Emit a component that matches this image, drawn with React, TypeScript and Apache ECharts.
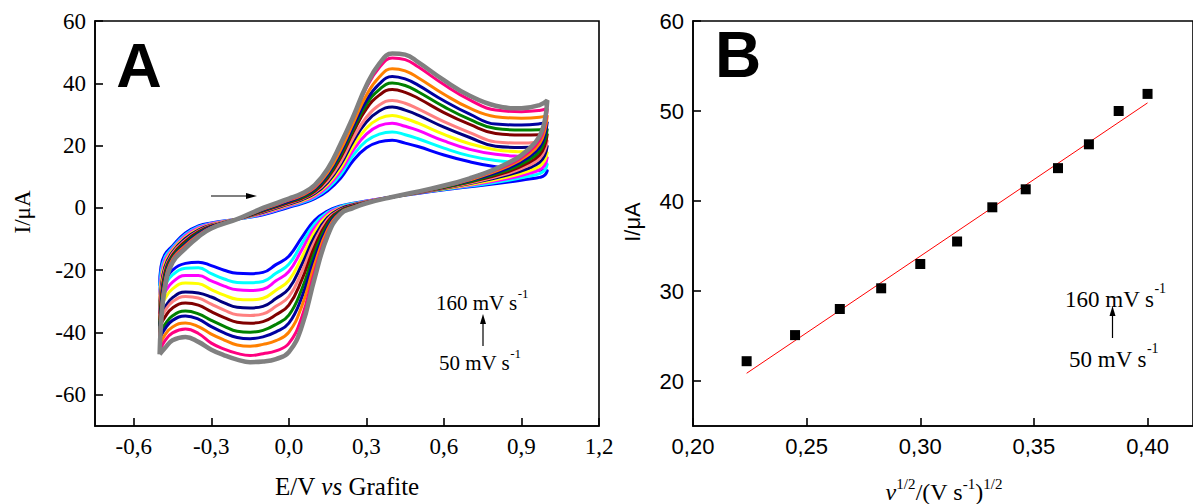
import { useEffect, useRef } from "react";
import * as echarts from "echarts";

// ---------- Panel A: cyclic voltammograms ----------
const scanRates = [50, 60, 70, 80, 90, 100, 110, 120, 130, 140, 150, 160];
const curveColors = ["#0000FF", "#00FFFF", "#FF00FF", "#FFFF00", "#000080", "#FF8080", "#800000", "#008000", "#0000A0", "#FF8000", "#FF0080", "#808080"];

// potentials (V) of the forward (anodic) and reverse (cathodic) sweeps
const forwardPotential = [-0.5, -0.495, -0.48, -0.45, -0.4, -0.35, -0.3, -0.2, -0.1, 0.0, 0.05, 0.1, 0.15, 0.2, 0.25, 0.3, 0.35, 0.4, 0.45, 0.5, 0.6, 0.7, 0.8, 0.9, 0.97, 1.0];
const reversePotential = [0.99, 0.97, 0.93, 0.85, 0.7, 0.55, 0.4, 0.3, 0.25, 0.2, 0.15, 0.1, 0.05, 0.0, -0.05, -0.1, -0.15, -0.2, -0.25, -0.3, -0.35, -0.4, -0.45, -0.48, -0.5];

// currents (µA) – forward sweeps
const forward50 = [-25, -19, -15, -12.2, -8.0, -5.8, -4.8, -3.6, -2.2, 0.2, 1.4, 3.0, 5.5, 9.5, 15.3, 19.3, 21.2, 21.7, 20.8, 19.7, 17.0, 14.8, 13.2, 12.4, 12.1, 12.0];
const forward60 = [-28, -21, -16, -12.7, -8.5, -6.1, -5.0, -3.6, -2.0, 0.5, 1.7, 3.4, 6.2, 10.6, 17.0, 21.5, 23.7, 24.4, 23.5, 22.2, 19.2, 16.7, 15.2, 14.5, 14.2, 14.2];
const forward70 = [-30, -23, -17, -13.2, -8.9, -6.4, -5.1, -3.6, -1.8, 0.7, 2.0, 3.8, 6.9, 11.8, 18.6, 23.7, 26.4, 27.2, 26.2, 24.9, 21.5, 18.8, 17.2, 16.5, 16.3, 16.3];
const forward80 = [-32, -24.5, -18, -13.6, -9.4, -6.8, -5.3, -3.6, -1.6, 1.0, 2.3, 4.2, 7.5, 12.8, 20.0, 25.6, 28.7, 29.7, 28.7, 27.2, 23.6, 20.6, 18.7, 18.0, 17.9, 17.9];
const forward90 = [-34, -26.5, -19, -14.1, -9.8, -7.1, -5.5, -3.6, -1.4, 1.2, 2.6, 4.6, 8.2, 13.9, 21.5, 27.6, 31.1, 32.4, 31.4, 29.8, 25.9, 22.6, 19.8, 19.4, 19.6, 20.0];
const forward100 = [-36, -28, -20, -14.6, -10.3, -7.4, -5.6, -3.6, -1.2, 1.5, 2.9, 5.0, 8.7, 14.7, 22.6, 29.1, 33.0, 34.5, 33.6, 31.8, 27.7, 24.2, 21.2, 20.8, 21.2, 21.7];
const forward110 = [-38, -30, -21, -15.1, -10.7, -7.7, -5.8, -3.6, -1.0, 1.7, 3.1, 5.3, 9.6, 16.1, 24.5, 31.8, 36.2, 38.0, 37.1, 35.2, 30.6, 26.8, 23.9, 23.4, 23.5, 23.8];
const forward120 = [-40, -32, -22, -15.6, -11.2, -8.0, -6.0, -3.6, -0.8, 2.0, 3.4, 5.7, 10.1, 16.9, 25.4, 33.2, 38.0, 40.1, 39.3, 37.3, 32.5, 28.4, 25.5, 25.0, 25.1, 25.4];
const forward130 = [-42, -33.5, -23, -16.1, -11.6, -8.3, -6.1, -3.6, -0.6, 2.2, 3.7, 6.1, 10.7, 17.7, 26.3, 34.5, 39.8, 42.2, 41.4, 39.4, 34.4, 30.1, 26.9, 26.6, 27.0, 27.6];
const forward140 = [-44, -35, -24, -16.5, -12.1, -8.7, -6.3, -3.6, -0.4, 2.5, 4.0, 6.5, 11.3, 18.6, 27.4, 36.2, 42.0, 44.7, 44.0, 41.8, 36.5, 32.0, 29.3, 28.8, 29.1, 29.7];
const forward150 = [-46, -37, -25, -17.0, -12.5, -9.0, -6.4, -3.6, -0.2, 2.7, 4.3, 6.9, 12.2, 20.0, 29.1, 38.6, 45.1, 48.1, 47.6, 45.3, 39.6, 34.7, 31.4, 30.9, 31.3, 31.9];
const forward160 = [-47, -38, -26, -17.5, -13.0, -9.3, -6.6, -3.6, 0.0, 3.0, 4.6, 7.3, 12.5, 20.5, 29.5, 39.3, 46.3, 49.6, 49.2, 46.8, 41.0, 36.0, 32.8, 32.0, 33.0, 34.5];

// currents (µA) – reverse sweeps
const reverse50 = [10.5, 9.8, 9.3, 8.3, 6.8, 5.3, 3.5, 2.2, 1.5, 0.6, -1.0, -4.0, -9.5, -15.5, -18.2, -20.7, -21.1, -21.0, -20.0, -18.5, -17.4, -17.8, -20.0, -23.5, -25];
const reverse60 = [12.1, 11.0, 10.2, 8.9, 7.0, 5.4, 3.5, 2.1, 1.4, 0.4, -1.4, -5.1, -11.5, -18.1, -21.0, -23.6, -24.0, -23.9, -22.8, -21.1, -19.2, -19.4, -21.5, -24.9, -28];
const reverse70 = [13.7, 12.2, 11.1, 9.4, 7.3, 5.5, 3.5, 2.1, 1.2, 0.1, -1.9, -6.3, -13.5, -20.4, -23.4, -26.1, -26.5, -26.3, -25.1, -23.4, -21.7, -21.7, -23.8, -27.1, -30];
const reverse80 = [15.3, 13.4, 11.9, 10.0, 7.5, 5.5, 3.5, 2.0, 1.1, -0.1, -2.5, -7.7, -15.9, -23.3, -26.4, -29.0, -29.5, -29.3, -28.0, -26.2, -24.3, -24.1, -26.0, -29.2, -32];
const reverse90 = [16.9, 14.6, 12.8, 10.6, 7.8, 5.6, 3.5, 1.9, 1.0, -0.3, -3.1, -9.2, -18.2, -25.9, -29.1, -31.6, -32.1, -31.9, -30.5, -28.6, -27.3, -27.0, -28.8, -31.9, -34];
const reverse100 = [18.5, 15.8, 13.7, 11.1, 8.0, 5.7, 3.5, 1.9, 0.8, -0.6, -3.7, -10.7, -20.5, -28.5, -31.6, -34.0, -34.5, -34.3, -32.8, -30.9, -28.9, -28.4, -30.1, -33.1, -36];
const reverse110 = [20.0, 17.0, 14.6, 11.7, 8.3, 5.8, 3.5, 1.8, 0.7, -0.8, -4.5, -12.4, -23.1, -31.2, -34.3, -36.5, -37.0, -36.7, -35.2, -33.3, -31.2, -30.5, -32.1, -35.1, -38];
const reverse120 = [21.6, 18.2, 15.5, 12.2, 8.5, 5.9, 3.5, 1.7, 0.5, -1.1, -5.3, -14.3, -26.1, -34.4, -37.4, -39.3, -39.9, -39.6, -38.0, -36.1, -34.0, -33.1, -34.6, -37.5, -40];
const reverse130 = [23.2, 19.4, 16.4, 12.8, 8.8, 6.0, 3.5, 1.7, 0.4, -1.3, -6.1, -16.1, -28.7, -37.0, -39.8, -41.4, -42.0, -41.6, -40.1, -38.1, -35.7, -34.7, -36.1, -38.9, -42];
const reverse140 = [24.8, 20.6, 17.2, 13.4, 9.0, 6.0, 3.5, 1.6, 0.3, -1.5, -7.0, -18.1, -31.6, -39.9, -42.6, -43.8, -44.4, -44.0, -42.4, -40.5, -38.1, -36.9, -38.2, -40.8, -44];
const reverse150 = [26.4, 21.8, 18.1, 13.9, 9.3, 6.1, 3.5, 1.6, 0.1, -1.8, -8.0, -20.4, -35.1, -43.5, -45.9, -46.8, -47.4, -46.7, -45.3, -43.4, -40.3, -38.9, -40.1, -42.7, -46];
const reverse160 = [28.0, 23.0, 19.0, 14.5, 9.5, 6.2, 3.5, 1.5, 0.0, -2.0, -9.0, -22.5, -38.1, -46.3, -48.5, -49.3, -49.5, -48.7, -47.3, -45.5, -43.0, -41.4, -42.5, -45.0, -47];

const forwardCurrents = [forward50, forward60, forward70, forward80, forward90, forward100, forward110, forward120, forward130, forward140, forward150, forward160];
const reverseCurrents = [reverse50, reverse60, reverse70, reverse80, reverse90, reverse100, reverse110, reverse120, reverse130, reverse140, reverse150, reverse160];

const aXTicks = [-0.6, -0.3, 0, 0.3, 0.6, 0.9, 1.2];
const aYTicks = [-60, -40, -20, 0, 20, 40, 60];

// ---------- Panel B: peak current vs sqrt(scan rate) ----------
const sqrtScanRate = [0.2236, 0.2449, 0.2646, 0.2828, 0.3, 0.3162, 0.3317, 0.3464, 0.3606, 0.3742, 0.3873, 0.4];
const peakCurrent = [22.2, 25.1, 28.0, 30.3, 33.0, 35.5, 39.3, 41.3, 43.65, 46.3, 50.0, 51.9];
const fitSqrtScanRate = [0.2236, 0.4];
const fitCurrent = [20.86, 50.9];

const bXTicks = [0.2, 0.25, 0.3, 0.35, 0.4];
const bYTicks = [20, 30, 40, 50, 60];

const SERIF = "Liberation Serif, Times New Roman, serif";
const SANS = "Liberation Sans, Arial, sans-serif";

function axisCommon(ticks: number[], fmt: (v: number) => string, font: string, size: number, margin: number) {
  return {
    axisLine: { show: true, onZero: false, lineStyle: { color: "#000", width: 1.6 } },
    axisTick: { show: true, inside: true, length: 8, customValues: ticks, lineStyle: { color: "#000", width: 1.6 } },
    axisLabel: { show: true, customValues: ticks, formatter: fmt, color: "#000", fontFamily: font, fontSize: size, margin },
    splitLine: { show: false },
  };
}

function richLabel(x: number, y: number, main: string, sup: string, size: number, supSize: number) {
  return {
    type: "text",
    x,
    y,
    silent: true,
    style: {
      text: `{n|${main}}{s|${sup}}`,
      align: "left",
      verticalAlign: "middle",
      textAlign: "left",
      textVerticalAlign: "middle",
      rich: {
        n: { fontFamily: SERIF, fontSize: size, lineHeight: size + 6, verticalAlign: "bottom", fill: "#000", color: "#000" },
        s: { fontFamily: SERIF, fontSize: supSize, lineHeight: supSize + 1, verticalAlign: "top", fill: "#000", color: "#000" },
      },
    },
  };
}

export default function App() {
  const ref = useRef<HTMLDivElement>(null);

  useEffect(() => {
    if (!ref.current) return;
    const chart = echarts.init(ref.current, undefined, { renderer: "svg" });

    const cvSeries = scanRates.map((rate, k) => ({
      type: "line",
      name: `${rate} mV/s`,
      xAxisIndex: 0,
      yAxisIndex: 0,
      data: [
        ...forwardPotential.map((e, i) => [e, forwardCurrents[k][i]]),
        ...reversePotential.map((e, i) => [e, reverseCurrents[k][i]]),
      ],
      showSymbol: false,
      symbol: "none",
      smooth: 0.45,
      silent: true,
      z: 2 + k,
      lineStyle: { color: curveColors[k], width: k === 11 ? 4.5 : 3 },
      itemStyle: { color: curveColors[k] },
    }));

    const option: any = {
      animation: false,
      backgroundColor: "#fff",
      textStyle: { fontFamily: SERIF },
      grid: [
        { left: 95, top: 21, width: 504, height: 405, show: true, borderColor: "#000", borderWidth: 1.6, backgroundColor: "transparent" },
        { left: 693, top: 21, width: 504, height: 405, show: true, borderColor: "#000", borderWidth: 1.6, backgroundColor: "transparent" },
      ],
      xAxis: [
        {
          type: "value",
          gridIndex: 0,
          min: -0.75,
          max: 1.2,
          ...axisCommon(aXTicks, (v: number) => v.toFixed(1).replace(".", ","), SERIF, 23, 9),
        },
        {
          type: "value",
          gridIndex: 1,
          min: 0.2,
          max: 0.42,
          ...axisCommon(bXTicks, (v: number) => v.toFixed(2).replace(".", ","), SANS, 22, 9),
        },
      ],
      yAxis: [
        {
          type: "value",
          gridIndex: 0,
          min: -70,
          max: 60,
          ...axisCommon(aYTicks, (v: number) => String(Math.round(v)), SERIF, 23, 9),
        },
        {
          type: "value",
          gridIndex: 1,
          min: 15,
          max: 60,
          ...axisCommon(bYTicks, (v: number) => String(Math.round(v)), SANS, 22, 9),
        },
      ],
      series: [
        ...cvSeries,
        {
          type: "line",
          name: "fit",
          xAxisIndex: 1,
          yAxisIndex: 1,
          data: fitSqrtScanRate.map((x, i) => [x, fitCurrent[i]]),
          showSymbol: false,
          symbol: "none",
          silent: true,
          lineStyle: { color: "#FF0000", width: 1 },
          z: 3,
        },
        {
          type: "scatter",
          name: "Ipa",
          xAxisIndex: 1,
          yAxisIndex: 1,
          data: sqrtScanRate.map((x, i) => [x, peakCurrent[i]]),
          symbol: "rect",
          symbolSize: 10,
          silent: true,
          itemStyle: { color: "#000", opacity: 1 },
          z: 4,
        },
      ],
      graphic: [
        { type: "text", x: 139, y: 65, silent: true, style: { text: "A", font: `bold 63px ${SANS}`, fill: "#000", align: "center", verticalAlign: "middle", textAlign: "center", textVerticalAlign: "middle" } },
        { type: "text", x: 738, y: 55, silent: true, style: { text: "B", font: `bold 64px ${SANS}`, fill: "#000", align: "center", verticalAlign: "middle", textAlign: "center", textVerticalAlign: "middle" } },
        // axis names
        { type: "text", x: 22, y: 212, rotation: Math.PI / 2, silent: true, style: { text: "I/μA", font: `23px ${SERIF}`, fill: "#000", align: "center", verticalAlign: "middle", textAlign: "center", textVerticalAlign: "middle" } },
        { type: "text", x: 632, y: 222, rotation: Math.PI / 2, silent: true, style: { text: "I/μA", font: `22px ${SANS}`, fill: "#000", align: "center", verticalAlign: "middle", textAlign: "center", textVerticalAlign: "middle" } },
        {
          type: "text",
          x: 347,
          y: 486,
          silent: true,
          style: {
            text: "{n|E/V }{i|vs}{n| Grafite}",
            align: "center",
            verticalAlign: "middle",
            textAlign: "center",
            textVerticalAlign: "middle",
            rich: {
              n: { fontFamily: SERIF, fontSize: 25, fill: "#000", color: "#000" },
              i: { fontFamily: SERIF, fontSize: 25, fontStyle: "italic", fill: "#000", color: "#000" },
            },
          },
        },
        {
          type: "text",
          x: 944,
          y: 490,
          silent: true,
          style: {
            text: "{i|v}{s|1/2}{n|/(V s}{s|-1}{n|)}{s|1/2}",
            align: "center",
            verticalAlign: "middle",
            textAlign: "center",
            textVerticalAlign: "middle",
            rich: {
              n: { fontFamily: SERIF, fontSize: 24, lineHeight: 28, verticalAlign: "bottom", fill: "#000", color: "#000" },
              i: { fontFamily: SERIF, fontSize: 24, lineHeight: 28, verticalAlign: "bottom", fontStyle: "italic", fill: "#000", color: "#000" },
              s: { fontFamily: SERIF, fontSize: 15, lineHeight: 15, verticalAlign: "top", fill: "#000", color: "#000" },
            },
          },
        },
        // annotations panel A
        richLabel(436, 300, "160 mV s", "-1", 21, 13),
        richLabel(439, 360, "50 mV s", "-1", 21, 13),
        { type: "polyline", silent: true, shape: { points: [[483, 346], [483, 322]] }, style: { stroke: "#000", lineWidth: 1.2, fill: "none" } },
        { type: "polygon", silent: true, shape: { points: [[483, 314], [480, 324], [486, 324]] }, style: { fill: "#000" } },
        { type: "polyline", silent: true, shape: { points: [[211, 196], [248, 196]] }, style: { stroke: "#000", lineWidth: 1.2, fill: "none" } },
        { type: "polygon", silent: true, shape: { points: [[257, 196], [246, 193], [246, 199]] }, style: { fill: "#000" } },
        // annotations panel B
        richLabel(1065, 296, "160 mV s", "-1", 23, 14),
        richLabel(1069, 356, "50 mV s", "-1", 23, 14),
        { type: "polyline", silent: true, shape: { points: [[1112.5, 338], [1112.5, 315]] }, style: { stroke: "#000", lineWidth: 1.2, fill: "none" } },
        { type: "polygon", silent: true, shape: { points: [[1112.5, 306], [1109.5, 316], [1115.5, 316]] }, style: { fill: "#000" } },
      ],
    };

    chart.setOption(option);
    return () => chart.dispose();
  }, []);

  return <div ref={ref} style={{ position: "absolute", left: 0, top: 0, width: 1193, height: 504, background: "#fff" }} />;
}
